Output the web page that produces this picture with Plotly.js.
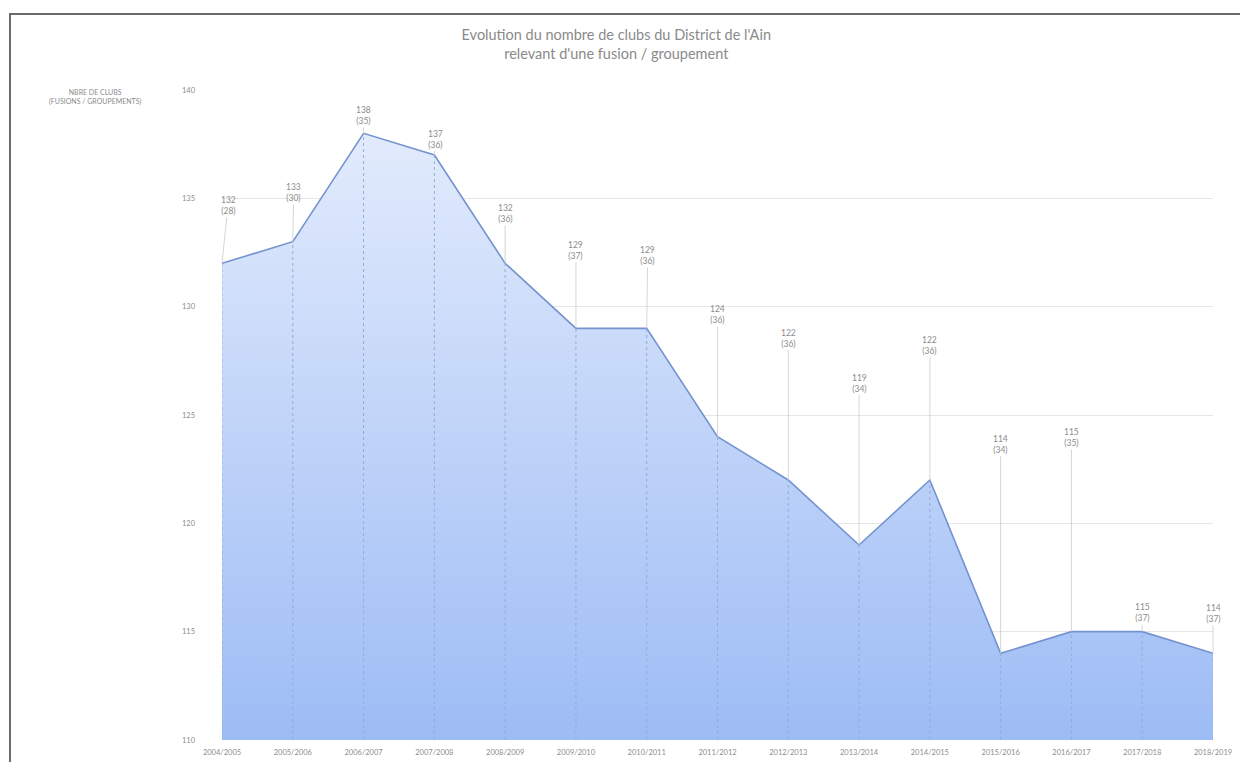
<!DOCTYPE html>
<html>
<head>
<meta charset="utf-8">
<script src="https://cdn.plot.ly/plotly-3.0.1.min.js"></script>
<style>
  html, body { margin: 0; padding: 0; background: #ffffff; }
  #wrap { position: relative; width: 1240px; height: 762px; overflow: hidden; }
  #chart { position: absolute; left: 0; top: 0; width: 1240px; height: 762px; }
  #frameTop { position: absolute; left: 9px; top: 13px; width: 1231px; height: 2px; background: #6b6b6b; }
  #frameLeft { position: absolute; left: 9px; top: 13px; width: 2px; height: 749px; background: #6b6b6b; }
</style>
</head>
<body>
<div id="wrap">
  <div id="chart"></div>
  <div id="frameTop"></div>
  <div id="frameLeft"></div>
</div>
<script>
// ---- data ----
const seasons = ["2004/2005","2005/2006","2006/2007","2007/2008","2008/2009","2009/2010","2010/2011",
                 "2011/2012","2012/2013","2013/2014","2014/2015","2015/2016","2016/2017","2017/2018","2018/2019"];
const clubs = [132, 133, 138, 137, 132, 129, 129, 124, 122, 119, 122, 114, 115, 115, 114];
const mergers = [28, 30, 35, 36, 36, 37, 36, 36, 36, 34, 36, 34, 35, 37, 37];
const yTicks = [110, 115, 120, 125, 130, 135, 140];

// label placement (pixel offsets of each label from its point)
const labelDY = [-58, -49, -18, -16, -50, -78, -73, -122, -142, -162, -135, -209, -194, -19, -40];
const labelDX = [6, 1, 0, 1, 0, 0, 1, 0, 0, 0, 0, 0, 0, 0, 0];

const font = "Lato, 'Open Sans', 'DejaVu Sans', sans-serif";
const grey = "#8c8c8c";

const area = {
  type: "scatter",
  mode: "lines",
  x: seasons,
  y: clubs,
  fill: "tozeroy",
  fillgradient: {
    type: "vertical",
    start: 110,
    stop: 138,
    colorscale: [[0, "#9dbcf5"], [1, "#e2ebfc"]]
  },
  line: { color: "#7393cf", width: 1.6 },
  hoverinfo: "x+y",
  showlegend: false
};

const shapes = seasons.map((s, i) => ({
  type: "line", xref: "x", yref: "y",
  x0: s, x1: s, y0: 110, y1: clubs[i],
  line: { color: "#93acd8", width: 1, dash: "dot" },
  layer: "above"
}));

const annotations = seasons.map((s, i) => ({
  x: s, y: clubs[i], xref: "x", yref: "y",
  text: clubs[i] + "<br>(" + mergers[i] + ")",
  showarrow: true, arrowhead: 0, arrowwidth: 0.8, arrowcolor: "#cbcbcb",
  ax: labelDX[i], ay: labelDY[i],
  font: { family: font, size: 8.5, color: grey },
  align: "center"
}));

annotations.push({
  xref: "paper", yref: "paper", x: -0.128, y: 1.006, xanchor: "center", yanchor: "top",
  showarrow: false,
  text: "NBRE DE CLUBS<br>(FUSIONS / GROUPEMENTS)",
  font: { family: font, size: 7, color: grey },
  align: "center"
});

const layout = {
  width: 1240, height: 762,
  margin: { l: 222, r: 27, t: 90, b: 22 },
  paper_bgcolor: "#ffffff",
  plot_bgcolor: "#ffffff",
  title: {
    text: "Evolution du nombre de clubs du District de l'Ain<br>relevant d'une fusion / groupement",
    x: 0.497, xanchor: "center", y: 0.947, yanchor: "top",
    font: { family: font, size: 14.5, color: "#8a8a8a" }
  },
  xaxis: {
    type: "category",
    range: [0, seasons.length - 1],
    showgrid: false,
    zeroline: false,
    showline: false,
    ticks: "",
    ticklabelstandoff: 6,
    tickfont: { family: font, size: 7.5, color: grey },
    tickangle: 0,
    automargin: false
  },
  yaxis: {
    range: [110, 140],
    tickvals: yTicks,
    ticktext: yTicks.map(String),
    showgrid: true,
    gridcolor: "#e6e6e6",
    gridwidth: 1,
    zeroline: false,
    showline: false,
    ticks: "",
    ticklabelstandoff: 26,
    tickfont: { family: font, size: 7.5, color: grey },
    automargin: false
  },
  shapes: shapes,
  annotations: annotations,
  showlegend: false
};

Plotly.newPlot("chart", [area], layout, { displayModeBar: false, staticPlot: true });
</script>
</body>
</html>
